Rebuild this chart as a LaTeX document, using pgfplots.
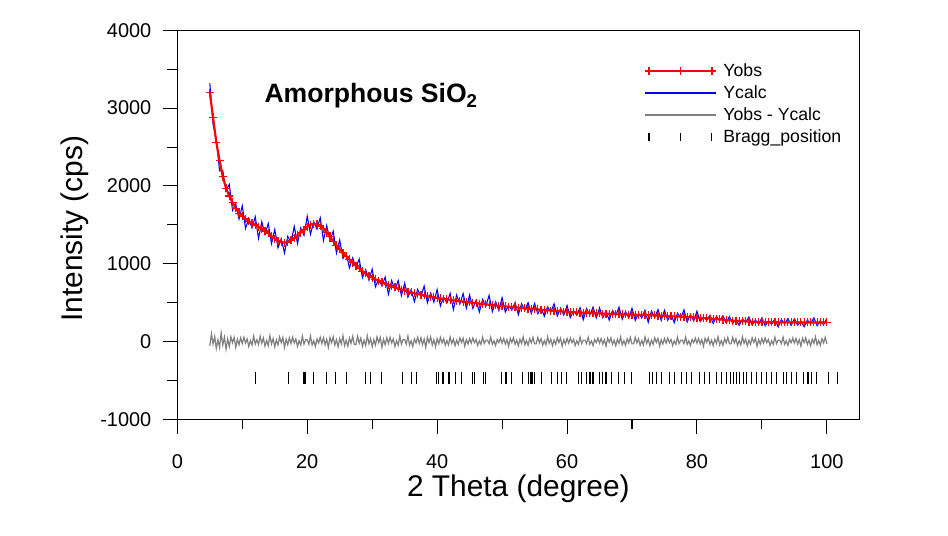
\documentclass[border=0pt]{standalone}
\usepackage{fontspec}
\setmainfont{Liberation Sans}
\usepackage{pgfplots}
\usepackage{pgfplotstable}
\pgfplotsset{compat=1.18}
\definecolor{obsred}{RGB}{255,0,0}
\definecolor{calcblue}{RGB}{0,0,255}
\definecolor{diffgray}{RGB}{128,128,128}

% legend images, wider than the default ones
\pgfplotsset{
    longline/.style={legend image code/.code={\draw[##1] (0bp,0bp) -- (53bp,0bp);}},
    obslegend/.style={legend image code/.code={
        \draw[##1, mark=none] (0bp,0bp) -- (53bp,0bp);
        \draw[##1, only marks, mark repeat=1] plot coordinates {(3bp,0bp) (26.5bp,0bp) (50bp,0bp)};}},
    bragglegend/.style={legend image code/.code={
        \draw[##1] plot coordinates {(3bp,0bp) (26.5bp,0bp) (50bp,0bp)};}},
}

% x = 2theta, obs = Yobs, calc = Ycalc
\pgfplotstableread{
x obs calc
5.0 3200 3320
5.5 2880 2790
6.0 2560 2605
6.5 2330 2195
7.0 2120 2195
7.5 1970 1940
8.0 1870 2020
8.5 1790 1685
9.0 1710 1770
9.5 1650 1575
10.0 1610 1745
10.5 1575 1455
11.0 1545 1575
11.5 1520 1460
12.0 1498 1603
12.5 1475 1325
13.0 1450 1540
13.5 1420 1375
14.0 1390 1518
14.5 1355 1257
15.0 1320 1440
15.5 1295 1205
16.0 1278 1323
16.5 1272 1137
17.0 1278 1353
17.5 1300 1270
18.0 1330 1480
18.5 1365 1260
19.0 1400 1460
19.5 1440 1365
20.0 1475 1610
20.5 1500 1380
21.0 1510 1540
21.5 1505 1445
22.0 1485 1590
22.5 1450 1300
23.0 1400 1490
23.5 1345 1300
24.0 1290 1418
24.5 1235 1137
25.0 1185 1305
25.5 1140 1068
26.0 1095 1131
26.5 1055 947
27.0 1015 1075
27.5 975 951
28.0 940 1060
28.5 905 821
29.0 875 923
29.5 848 788
30.0 822 930
30.5 800 704
31.0 780 804
31.5 762 714
32.0 745 829
32.5 728 608
33.0 712 784
33.5 697 661
34.0 682 784
34.5 668 590
35.0 655 751
35.5 643 571
36.0 632 668
36.5 621 513
37.0 611 671
37.5 601 577
38.0 592 712
38.5 583 499
39.0 575 623
39.5 567 507
40.0 560 668
40.5 554 458
41.0 548 572
41.5 542 494
42.0 536 620
42.5 530 410
43.0 525 597
43.5 519 483
44.0 514 616
44.5 508 430
45.0 503 599
45.5 498 426
46.0 493 529
46.5 488 380
47.0 483 543
47.5 478 454
48.0 473 593
48.5 468 384
49.0 464 512
49.5 459 399
50.0 455 563
50.5 451 379
51.0 447 465
51.5 443 407
52.0 439 502
52.5 435 345
53.0 431 485
53.5 427 400
54.0 423 500
54.5 419 360
55.0 416 488
55.5 412 358
56.0 409 436
56.5 405 324
57.0 402 447
57.5 398 380
58.0 395 485
58.5 392 329
59.0 389 425
59.5 386 341
60.0 383 464
60.5 380 308
61.0 378 396
61.5 375 339
62.0 373 436
62.5 371 281
63.0 369 423
63.5 367 340
64.0 365 442
64.5 363 304
65.0 361 433
65.5 359 305
66.0 358 385
66.5 356 275
67.0 355 400
67.5 353 335
68.0 352 442
68.5 350 287
69.0 349 385
69.5 347 302
70.0 346 427
70.5 344 272
71.0 343 361
71.5 341 305
72.0 340 403
72.5 338 248
73.0 337 391
73.5 335 308
74.0 333 410
74.5 331 272
75.0 329 401
75.5 327 273
76.0 325 352
76.5 323 242
77.0 321 366
77.5 319 301
78.0 317 407
78.5 315 252
79.0 313 349
79.5 310 265
80.0 308 389
80.5 305 257
81.0 302 314
81.5 299 275
82.0 296 338
82.5 292 232
83.0 289 325
83.5 285 267
84.0 281 332
84.5 277 238
85.0 273 321
85.5 269 233
86.0 266 284
86.5 263 209
87.0 260 290
87.5 258 246
88.0 256 316
88.5 254 212
89.0 253 277
89.5 252 222
90.0 251 305
90.5 250 202
91.0 249 261
91.5 248 224
92.0 248 290
92.5 247 187
93.0 247 283
93.5 246 228
94.0 246 297
94.5 246 207
95.0 246 294
95.5 245 209
96.0 245 263
96.5 245 191
97.0 245 275
97.5 245 233
98.0 245 305
98.5 245 203
99.0 245 269
99.5 245 215
100.0 245 299
}\datatable

% Bragg reflection positions
\pgfplotstableread{
x y
12.0 -464
17.1 -464
19.5 -464
19.7 -464
20.9 -464
22.9 -464
24.3 -464
26.1 -464
28.9 -464
29.8 -464
31.4 -464
34.6 -464
36.1 -464
36.8 -464
39.9 -464
40.2 -464
40.9 -464
41.7 -464
41.9 -464
42.8 -464
43.7 -464
45.5 -464
45.7 -464
47.2 -464
47.4 -464
49.9 -464
50.6 -464
51.4 -464
53.2 -464
54.0 -464
54.4 -464
54.6 -464
55.0 -464
56.0 -464
57.6 -464
58.6 -464
59.1 -464
59.9 -464
61.7 -464
62.2 -464
63.0 -464
63.4 -464
63.6 -464
64.0 -464
65.0 -464
65.5 -464
66.0 -464
66.8 -464
67.9 -464
68.9 -464
69.9 -464
72.7 -464
73.2 -464
73.8 -464
74.5 -464
75.8 -464
76.6 -464
77.6 -464
78.4 -464
79.2 -464
80.4 -464
81.2 -464
82.0 -464
83.0 -464
83.8 -464
84.5 -464
85.1 -464
85.6 -464
86.1 -464
86.6 -464
87.1 -464
87.6 -464
88.4 -464
89.2 -464
89.9 -464
90.7 -464
91.5 -464
92.2 -464
93.3 -464
93.8 -464
94.6 -464
95.3 -464
96.4 -464
97.1 -464
97.6 -464
98.4 -464
100.2 -464
101.7 -464
}\braggtable

\begin{document}
\begin{tikzpicture}
\path[use as bounding box] (-133bp,-86.8bp) rectangle (578bp,314.5bp);
\begin{axis}[
    at={(0,0)}, anchor=south west,
    scale only axis,
    width=511.5bp, height=291.75bp,
    xmin=0, xmax=105,
    ymin=-1000, ymax=4000,
    xtick={0,20,...,100},
    ytick={-1000,0,...,4000},
    minor x tick num=1,
    minor y tick num=1,
    tick align=outside,
    xtick pos=bottom, ytick pos=left,
    major tick length=11bp,
    minor tick length=7.5bp,
    axis line style={line width=0.8bp},
    every tick/.style={black, line width=0.8bp},
    scaled y ticks=false,
    /pgf/number format/1000 sep={},
    /pgf/number format/assume math mode=true,
    tick label style={font=\fontsize{15}{18}\selectfont},
    yticklabel style={xshift=-5bp},
    xticklabel style={yshift=-12bp},
    xlabel={2 Theta (degree)},
    ylabel={Intensity (cps)},
    label style={font=\fontsize{22.5}{27}\selectfont},
    xlabel style={at={(axis description cs:0.5,-0.198)}, anchor=base},
    ylabel style={at={(axis description cs:-0.15,0.49)}, anchor=center},
    legend cell align=left,
    legend style={draw=none, fill=none, inner sep=0pt,
        at={(0.684,0.924)}, anchor=north west,
        font=\fontsize{13.3}{16}\selectfont,
        row sep=0pt,
        nodes={inner sep=0pt, text height=12bp, text depth=4.5bp},
        /tikz/every odd column/.append style={column sep=5bp}},
]
% Ycalc under Yobs
\addplot[color=calcblue, line width=0.8bp, forget plot] table[x=x, y=calc] {\datatable};
\addplot[color=obsred, line width=1.6bp, mark=+, mark size=3bp, mark options={line width=0.9bp}, forget plot] table[x=x, y=obs] {\datatable};
% Yobs - Ycalc
\addplot[color=diffgray, line width=0.9bp, forget plot] coordinates {
(5,-55) (5.25,99) (5.5,-33) (5.75,66) (6,-88) (6.25,22) (6.5,-77) (6.75,110) (7,-44) (7.25,55) (7.5,-99) (7.75,33) (8,-66)
(8.25,60) (8.5,-15) (8.75,53) (9,-75) (9.25,30) (9.5,-41) (9.75,49) (10,-26) (10.25,56) (10.5,-19) (10.75,34) (11,-64) (11.25,11) (11.5,-45) (11.75,71) (12,-34) (12.25,23)
(12.5,-38) (12.75,68) (13,-23) (13.25,45) (13.5,-60) (13.75,15) (14,-53) (14.25,75) (14.5,-30) (14.75,38) (15,-68) (15.25,23) (15.5,-45) (15.75,60) (16,-15) (16.25,53) (16.5,-75) (16.75,30) (17,-41) (17.25,49) (17.5,-26) (17.75,56) (18,-19) (18.25,34) (18.5,-64) (18.75,11) (19,-45) (19.25,71) (19.5,-34) (19.75,23)
(20,23) (20.25,-34) (20.5,71) (20.75,-45) (21,11) (21.25,-64) (21.5,34) (21.75,-19) (22,56) (22.25,-26) (22.5,49) (22.75,-41) (23,30) (23.25,-75) (23.5,53) (23.75,-15) (24,60) (24.25,-45) (24.5,23) (24.75,-68) (25,38) (25.25,-30) (25.5,75) (25.75,-53) (26,15) (26.25,-60) (26.5,45) (26.75,-23) (27,68) (27.25,-38)
(27.5,-38) (27.75,68) (28,-23) (28.25,45) (28.5,-60) (28.75,15) (29,-53) (29.25,75) (29.5,-30) (29.75,38) (30,-68) (30.25,23) (30.5,-45) (30.75,60) (31,-15) (31.25,53) (31.5,-75) (31.75,30) (32,-41) (32.25,49) (32.5,-26) (32.75,56) (33,-19) (33.25,34) (33.5,-64) (33.75,11) (34,-45) (34.25,71) (34.5,-34) (34.75,23)
(35,23) (35.25,-34) (35.5,71) (35.75,-45) (36,11) (36.25,-64) (36.5,34) (36.75,-19) (37,56) (37.25,-26) (37.5,49) (37.75,-41) (38,30) (38.25,-75) (38.5,53) (38.75,-15) (39,60) (39.25,-45) (39.5,23) (39.75,-68) (40,38)
(40.25,-30) (40.5,54) (40.75,-18) (41,36) (41.25,-48) (41.5,12) (41.75,-42) (42,60) (42.25,-24) (42.5,30) (42.75,-54) (43,18) (43.25,-36) (43.5,48) (43.75,-12) (44,42) (44.25,-60) (44.5,24) (44.75,-33) (45,39) (45.25,-21) (45.5,45) (45.75,-15) (46,27) (46.25,-51) (46.5,9) (46.75,-36) (47,57) (47.25,-27) (47.5,18)
(47.75,18) (48,-27) (48.25,57) (48.5,-36) (48.75,9) (49,-51) (49.25,27) (49.5,-15) (49.75,45) (50,-21) (50.25,39) (50.5,-33) (50.75,24) (51,-60) (51.25,42) (51.5,-12) (51.75,48) (52,-36) (52.25,18) (52.5,-54) (52.75,30) (53,-24) (53.25,60) (53.5,-42) (53.75,12) (54,-48) (54.25,36) (54.5,-18) (54.75,54) (55,-30)
(55.25,-30) (55.5,54) (55.75,-18) (56,36) (56.25,-48) (56.5,12) (56.75,-42) (57,60) (57.25,-24) (57.5,30) (57.75,-54) (58,18) (58.25,-36) (58.5,48) (58.75,-12) (59,42) (59.25,-60) (59.5,24) (59.75,-33) (60,39) (60.25,-21) (60.5,45) (60.75,-15) (61,27) (61.25,-51) (61.5,9) (61.75,-36) (62,57) (62.25,-27) (62.5,18)
(62.75,18) (63,-27) (63.25,57) (63.5,-36) (63.75,9) (64,-51) (64.25,27) (64.5,-15) (64.75,45) (65,-21) (65.25,39) (65.5,-33) (65.75,24) (66,-60) (66.25,42) (66.5,-12) (66.75,48) (67,-36) (67.25,18) (67.5,-54) (67.75,30) (68,-24) (68.25,60) (68.5,-42) (68.75,12) (69,-48) (69.25,36) (69.5,-18) (69.75,54) (70,-30)
(70.25,-30) (70.5,54) (70.75,-18) (71,36) (71.25,-48) (71.5,12) (71.75,-42) (72,60) (72.25,-24) (72.5,30) (72.75,-54) (73,18) (73.25,-36) (73.5,48) (73.75,-12) (74,42) (74.25,-60) (74.5,24) (74.75,-33) (75,39) (75.25,-21) (75.5,45) (75.75,-15) (76,27) (76.25,-51) (76.5,9) (76.75,-36) (77,57) (77.25,-27) (77.5,18)
(77.75,18) (78,-27) (78.25,57) (78.5,-36) (78.75,9) (79,-51) (79.25,27) (79.5,-15) (79.75,45) (80,-21) (80.25,39) (80.5,-33) (80.75,24) (81,-60) (81.25,42) (81.5,-12) (81.75,48) (82,-36) (82.25,18) (82.5,-54) (82.75,30) (83,-24) (83.25,60) (83.5,-42) (83.75,12) (84,-48) (84.25,36) (84.5,-18) (84.75,54) (85,-30)
(85.25,-30) (85.5,54) (85.75,-18) (86,36) (86.25,-48) (86.5,12) (86.75,-42) (87,60) (87.25,-24) (87.5,30) (87.75,-54) (88,18) (88.25,-36) (88.5,48) (88.75,-12) (89,42) (89.25,-60) (89.5,24) (89.75,-33) (90,39) (90.25,-21) (90.5,45) (90.75,-15) (91,27) (91.25,-51) (91.5,9) (91.75,-36) (92,57) (92.25,-27) (92.5,18)
(92.75,18) (93,-27) (93.25,57) (93.5,-36) (93.75,9) (94,-51) (94.25,27) (94.5,-15) (94.75,45) (95,-21) (95.25,39) (95.5,-33) (95.75,24) (96,-60) (96.25,42) (96.5,-12) (96.75,48) (97,-36) (97.25,18) (97.5,-54) (97.75,30) (98,-24) (98.25,60) (98.5,-42) (98.75,12) (99,-48) (99.25,36) (99.5,-18) (99.75,54) (100,-30)
};
\addplot[black, only marks, mark=|, mark size=4.5bp, mark options={line width=0.8bp}, forget plot] table[x=x, y=y] {\braggtable};

% legend entries
\addlegendimage{obsred, line width=1.5bp, mark=+, mark size=3bp, mark options={line width=1.2bp}, obslegend}
\addlegendentry{Yobs}
\addlegendimage{calcblue, line width=1.5bp, longline}
\addlegendentry{Ycalc}
\addlegendimage{diffgray, line width=1.5bp, longline}
\addlegendentry{Yobs - Ycalc}
\addlegendimage{black, only marks, mark=|, mark size=2.8bp, mark options={line width=1.1bp}, bragglegend}
\addlegendentry{Bragg\_position}

\node[anchor=base west, font=\fontsize{20}{24}\selectfont\bfseries] at (axis cs:12.7,3067) {Amorphous SiO\textsubscript{2}};
\end{axis}
\end{tikzpicture}
\end{document}
